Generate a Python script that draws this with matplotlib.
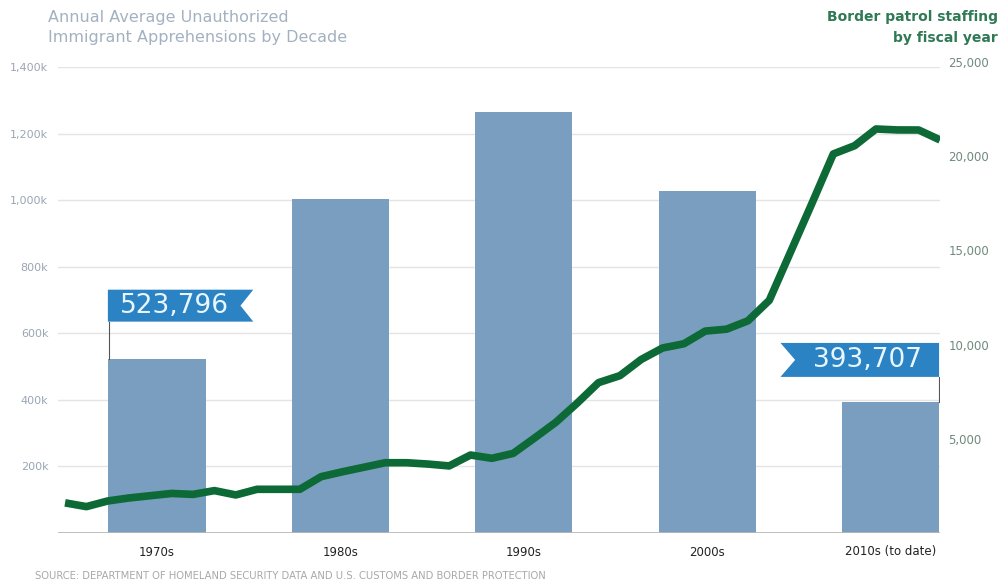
import matplotlib.pyplot as plt
from matplotlib.patches import Polygon

# Decade averages (bars, left axis)
decades = ['1970s', '1980s', '1990s', '2000s', '2010s (to date)']
apprehensions = [523796, 1003000, 1266000, 1028000, 393707]

# Border patrol staffing by fiscal year (line, right axis)
years = list(range(1973, 2015))
staffing = [1600, 1400, 1700, 1860, 1980, 2100, 2050, 2250, 2020, 2320,
            2320, 2320, 2990, 3250, 3490, 3730, 3730, 3660, 3560, 4139,
            3965, 4226, 5042, 5878, 6895, 7982, 8351, 9212, 9821, 10045,
            10717, 10819, 11264, 12349, 14923, 17499, 20119, 20558, 21444,
            21394, 21391, 20863]

left_ticks = [200000, 400000, 600000, 800000, 1000000, 1200000, 1400000]
left_labels = ['200k', '400k', '600k', '800k', '1,000k', '1,200k', '1,400k']
right_ticks = [5000, 10000, 15000, 20000, 25000]
right_labels = ['5,000', '10,000', '15,000', '20,000', '25,000']

bar_color = '#7a9ec0'
line_color = '#0d6a37'
flag_color = '#2b83c3'

W, H = 1003, 587
fig = plt.figure(figsize=(W / 100, H / 100), dpi=100)

# main axes (bars)
ax = fig.add_axes([58 / W, (H - 533) / H, (940 - 58) / W, (533 - 67) / H])
xs = range(len(decades))
ax.bar(xs, apprehensions, width=0.53, color=bar_color, zorder=2)
ax.set_xlim(-0.54, 4.27)
ax.set_ylim(0, 1400000)
ax.set_yticks(left_ticks)
ax.set_yticklabels(left_labels)
ax.set_xticks(list(xs))
ax.set_xticklabels(decades)
ax.grid(axis='y', color='#e4e4e4', lw=1, zorder=0)
for s in ax.spines.values():
    s.set_visible(False)
ax.axhline(0, color='#b8b8b8', lw=2, zorder=3)
ax.tick_params(axis='y', length=0, pad=7, labelsize=8, labelcolor='#9aa6b4')
ax.tick_params(axis='x', length=0, pad=9, labelsize=8.5, labelcolor='#222222')

# line axes (own x in years, own y scale on the right)
ax2 = fig.add_axes([58 / W, (H - 533) / H, (940 - 58) / W, (533 - 62) / H])
ax2.patch.set_visible(False)
ax2.plot(years, staffing, color=line_color, lw=5.5, solid_capstyle='butt',
         solid_joinstyle='round', zorder=5)
ax2.set_xlim(1972.67, 2014.0)
ax2.set_ylim(0, 25000)
ax2.set_xticks([])
ax2.yaxis.tick_right()
ax2.set_yticks(right_ticks)
ax2.set_yticklabels(right_labels)
ax2.tick_params(axis='y', length=0, pad=6, labelsize=8.5, labelcolor='#6f8a7c')
for s in ax2.spines.values():
    s.set_visible(False)

# callout flags
def flag(x0, x1, y0, y1, notch, side, text, pole_x, bar_top):
    ym = (y0 + y1) / 2
    if side == 'right':
        pts = [(x0, y0), (x1, y0), (x1 - notch, ym), (x1, y1), (x0, y1)]
        tx = (x0 + x1 - notch) / 2
    else:
        pts = [(x0, y0), (x1, y0), (x1, y1), (x0, y1), (x0 + notch, ym)]
        tx = (x0 + notch + x1) / 2
    ax.add_patch(Polygon(pts, closed=True, color=flag_color, zorder=6, lw=0))
    ax.plot([pole_x, pole_x], [bar_top, y0], color='#555555', lw=0.8, zorder=6)
    ax.text(tx, ym, text, color='#e8f6ff', fontsize=19, ha='center',
            va='center', zorder=7)

flag(-0.268, 0.525, 635000, 731000, 0.07, 'right', '523,796', -0.262, apprehensions[0])
flag(3.40, 4.265, 469000, 571000, 0.08, 'left', '393,707', 4.262, apprehensions[4])

# titles
fig.text(48 / W, 1 - 10 / H, 'Annual Average Unauthorized\nImmigrant Apprehensions by Decade',
         ha='left', va='top', fontsize=11.5, color='#a3b1c1', linespacing=1.45)
fig.text(998 / W, 1 - 10 / H, 'Border patrol staffing\nby fiscal year',
         ha='right', va='top', fontsize=10, color='#2f7a55', fontweight='bold',
         linespacing=1.6)
fig.text(35 / W, 1 - 576 / H,
         'SOURCE: DEPARTMENT OF HOMELAND SECURITY DATA AND U.S. CUSTOMS AND BORDER PROTECTION',
         ha='left', va='center', fontsize=7.2, color='#a8a8a8')

fig.savefig('out.png', dpi=100)
